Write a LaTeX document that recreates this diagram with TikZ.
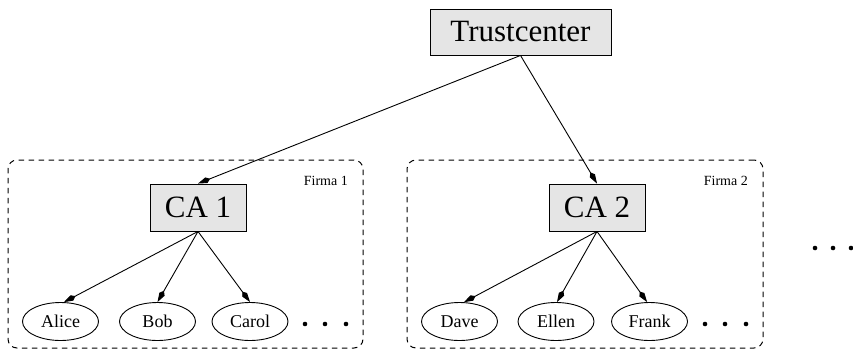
\documentclass[tikz,border=0pt]{standalone}
\usepackage{fontspec}
\setmainfont{Liberation Serif}
\usepackage{tikz}
\usetikzlibrary{arrows.meta, positioning, shapes.geometric}
\definecolor{boxgray}{RGB}{229,229,229}
\definecolor{linedark}{RGB}{0,0,0}
\tikzset{
  rootbox/.style={rectangle, draw=linedark, fill=boxgray, line width=0.9pt,
    minimum width=181pt, minimum height=46pt, inner sep=0pt,
    font=\fontsize{31}{36}\selectfont},
  cabox/.style={rectangle, draw=linedark, fill=boxgray, line width=0.9pt,
    minimum width=96pt, minimum height=47pt, inner sep=0pt,
    font=\fontsize{31}{36}\selectfont},
  user/.style={ellipse, draw=linedark, line width=0.9pt,
    minimum width=76pt, minimum height=38pt, inner sep=0pt,
    font=\fontsize{18}{22}\selectfont},
  firmframe/.style={rectangle, draw=linedark, line width=1pt,
    dash pattern=on 5.5pt off 4.5pt, rounded corners=9pt,
    minimum width=355pt, minimum height=188pt, inner sep=0pt},
  firmlabel/.style={anchor=base east, inner sep=0pt,
    font=\fontsize{14}{16}\selectfont},
  arrow/.style={-{Kite[length=13pt, width=6pt, inset=4pt]}, line width=0.9pt, color=linedark}
}
\begin{document}
\begin{tikzpicture}[x=1pt, y=-1pt]
  \useasboundingbox (0,0) rectangle (853,351);
  % Companies
  \node[firmframe] (firma1) at (185.5,254) {};
  \node[firmframe, minimum width=356pt] (firma2) at (585,254) {};
  \node[firmlabel] (lab1) at (348,185) {Firma 1};
  \node[firmlabel] (lab2) at (748,185) {Firma 2};
  % Trustcenter and CAs
  \node[rootbox] (tc) at (520.5,32) {Trustcenter};
  \node[cabox] (ca1) at (198,207.5) {CA 1};
  \node[cabox] (ca2) at (597,207.5) {CA 2};
  % Users
  \node[user] (alice) at (60.5,321.5) {Alice};
  \node[user] (bob) at (157.5,321.5) {Bob};
  \node[user] (carol) at (250,321.5) {Carol};
  \node[user] (dave) at (459.5,321.5) {Dave};
  \node[user] (ellen) at (556,321.5) {Ellen};
  \node[user] (frank) at (649.5,321.5) {Frank};
  % Edges
  \draw[arrow] (tc.south) -- (ca1.north);
  \draw[arrow] (tc.south) -- (ca2.north);
  \draw[arrow] (ca1.south) -- (alice.80);
  \draw[arrow] (ca1.south) -- (bob.north);
  \draw[arrow] (ca1.south) -- (carol.north);
  \draw[arrow] (ca2.south) -- (dave.77);
  \draw[arrow] (ca2.south) -- (ellen.87);
  \draw[arrow] (ca2.south) -- (frank.97);
  % Dots
  \foreach \x in {305,325,346} \fill (\x,324) circle (2.3pt);
  \foreach \x in {705,725,746} \fill (\x,324) circle (2.3pt);
  \foreach \x in {815,833,851} \fill (\x,248) circle (2.3pt);
\end{tikzpicture}
\end{document}
